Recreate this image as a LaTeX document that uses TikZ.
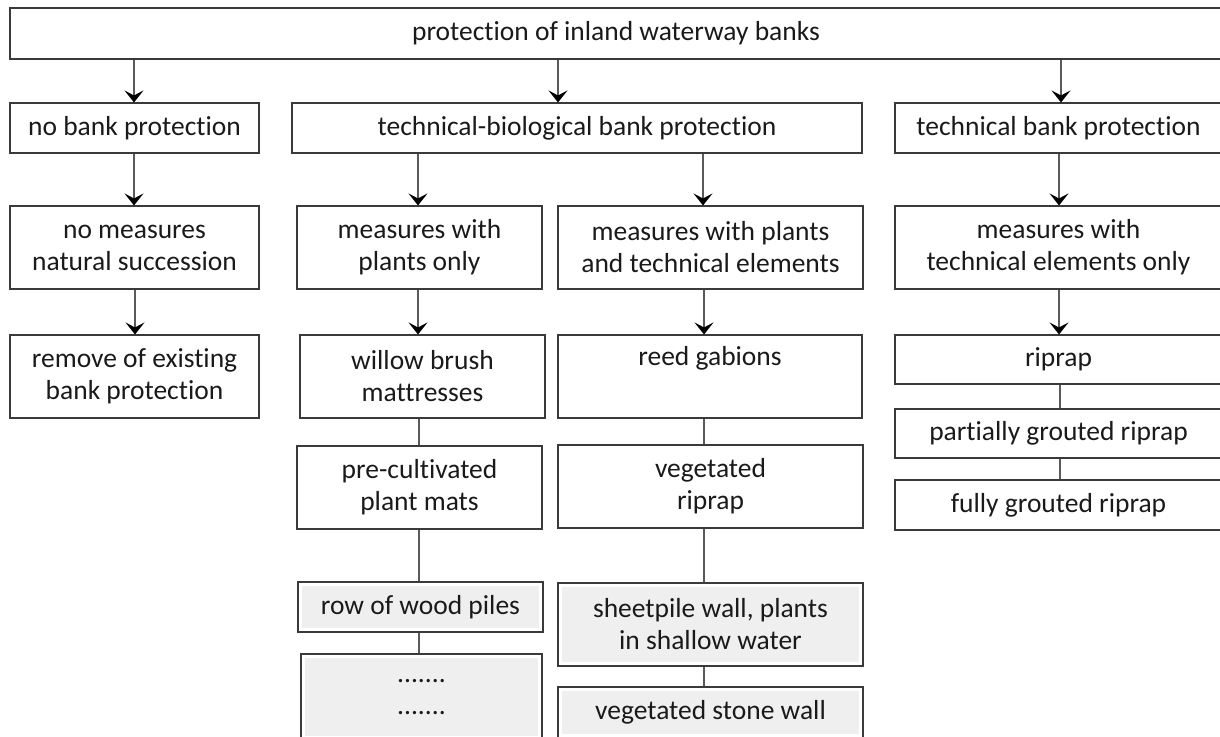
\documentclass[tikz,border=0pt]{standalone}
\usepackage{fontspec}
\setmainfont{Carlito}[Ligatures=NoCommon]
\usetikzlibrary{arrows.meta}

\definecolor{boxline}{HTML}{3A3A3A}
\definecolor{linkline}{HTML}{5A5A5A}
\definecolor{txt}{HTML}{1A1A1A}
\definecolor{paleGray}{HTML}{EFEFEF}

% box given by its left, right, top and bottom edges (pixel grid, y downwards)
\newcommand\mkbox[7][box]{%
  \node[#1, minimum width={#4-#3}, minimum height={#6-#5}] (#2)
    at ({(#3+#4)/2},{(#5+#6)/2}) {#7};}
% vertical connector between two boxes at a given x
\newcommand\vlink[4][link]{%
  \draw[#1] (#2.south -| #4,0) -- (#3.north -| #4,0);}

\begin{document}
\begin{tikzpicture}[x=1pt, y=-1pt,
  box/.style={draw=boxline, line width=1.1pt, fill=white, inner sep=0pt,
    align=center, text=txt, font=\fontsize{27.5}{32}\selectfont},
  greybox/.style={box, path picture={
    \fill[paleGray] ([shift={(4pt,-4pt)}]path picture bounding box.north west)
      rectangle ([shift={(-4pt,4pt)}]path picture bounding box.south east);}},
  link/.style={draw=linkline, line width=1.1pt},
  arr/.style={link, -{Stealth[length=12pt, width=19pt, inset=5pt, fill=black, color=black]}},
]
\useasboundingbox (0,0) rectangle (1220,736);
\fill[white] (0,0) rectangle (1220,736);

% root
\mkbox{root}{10}{1222}{8}{59}{protection of inland waterway banks}

% main branches
\mkbox{nobank}{10}{259}{103}{153}{no bank protection}
\mkbox{techbio}{292}{862}{103}{153}{technical-biological bank protection}
\mkbox{techbank}{895}{1222}{103}{153}{technical bank protection}

% kinds of measures
\mkbox{nomeas}{10}{259}{206}{289}{no measures\\natural succession}
\mkbox{plantsonly}{297}{542}{206}{289}{measures with\\plants only}
\mkbox{plantstech}{558}{863}{206}{289}{measures with plants\\and technical elements}
\mkbox{techonly}{895}{1222}{206}{289}{measures with\\technical elements only}

% first examples
\mkbox{remove}{10}{259}{335}{418}{remove of existing\\bank protection}
\mkbox{willow}{300}{545}{335}{418}{willow brush\\mattresses}
\mkbox{reed}{558}{862}{335}{418}{reed gabions\\\strut}
\mkbox{riprap}{895}{1222}{335}{384}{riprap}

% further examples
\mkbox{partial}{895}{1222}{409}{458}{partially grouted riprap}
\mkbox{fully}{895}{1222}{480}{530}{fully grouted riprap}
\mkbox{precult}{297}{542}{446}{529}{pre-cultivated\\plant mats}
\mkbox{vegrip}{558}{863}{445}{528}{vegetated\\riprap}
\mkbox[greybox]{wood}{298}{543}{582}{632}{row of wood piles}
\mkbox[greybox]{sheet}{558}{863}{583}{666}{sheetpile wall, plants\\in shallow water}
\mkbox[greybox]{dots}{301}{542}{654}{740}{.......\\.......}
\mkbox[greybox]{stone}{558}{863}{687}{738}{vegetated stone wall}

% arrows
\vlink[arr]{root}{nobank}{134}
\vlink[arr]{root}{techbio}{558}
\vlink[arr]{root}{techbank}{1061}
\vlink[arr]{nobank}{nomeas}{134}
\vlink[arr]{techbio}{plantsonly}{418}
\vlink[arr]{techbio}{plantstech}{703}
\vlink[arr]{techbank}{techonly}{1059}
\vlink[arr]{nomeas}{remove}{135}
\vlink[arr]{plantsonly}{willow}{418}
\vlink[arr]{plantstech}{reed}{704}
\vlink[arr]{techonly}{riprap}{1059}

% plain links
\vlink{willow}{precult}{419}
\vlink{precult}{wood}{419}
\vlink{wood}{dots}{419}
\vlink{reed}{vegrip}{704}
\vlink{vegrip}{sheet}{704}
\vlink{sheet}{stone}{704}
\vlink{riprap}{partial}{1060}
\vlink{partial}{fully}{1060}
\end{tikzpicture}
\end{document}
